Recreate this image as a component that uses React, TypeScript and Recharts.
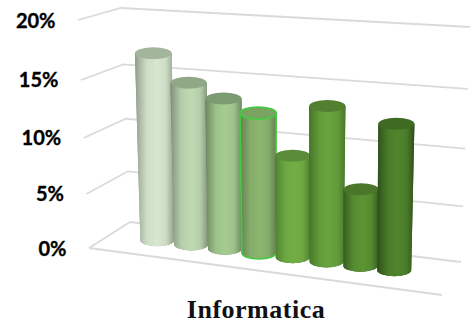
import { BarChart, Bar, XAxis, YAxis, CartesianGrid } from "recharts";

const categories = ["A", "B", "C", "D", "E", "F", "G", "H"];
const shares = [16.9, 14.6, 13.5, 12.5, 9.1, 13.6, 6.8, 12.6];
const yTicks = [0, 5, 10, 15, 20];
const chartTitle = "Informatica";

// body centre, body edge, cap
const bodyColors = ["#d8e8d0", "#bfdab2", "#a6cc91", "#8bb56f", "#72ae45", "#68a33e", "#5c9434", "#4f852c"];
const edgeColors = ["#8f9a89", "#7f8f78", "#6b8560", "#647f50", "#4e7f30", "#457528", "#365c20", "#2d4d1a"];
const capColors = ["#a3b59a", "#91a886", "#7d9b70", "#7aa262", "#5a8c3a", "#527f30", "#4a7629", "#3f6a24"];
const HIGHLIGHT = 3; // this bar has a bright green outline in the source

const data = categories.map((name, i) => ({ name, share: shares[i] }));

const WIDTH = 470;
const HEIGHT = 323;
const MARGIN = { top: 20, right: 18, bottom: 75, left: 110 };
const PLOT_LEFT = 111;
const PLOT_W = WIDTH - PLOT_LEFT - MARGIN.right;
const PLOT_H = HEIGHT - MARGIN.top - MARGIN.bottom;

// corners of the 3D box: floor position and how far it moves at the top of the axis
const FL = { x: 89, y: 248, dx: -11, dy: -228 };
const BL = { x: 130, y: 222, dx: -9, dy: -214 };
const BR = { x: 461, y: 262, dx: 9, dy: -235 };
const FR = { x: 442, y: 295, dx: 8, dy: -250 };
const BAR_DEPTH = 0.53;

const mix = (a: number, b: number, k: number) => a + (b - a) * k;
const warp = (t: number) => 0.93 * t + 0.07 * t * t;

// u: left to right in the plot, d: front (0) to back (1), t: axis height
function project(u: number, d: number, t: number) {
  const w = warp(t);
  const at = (c: typeof FL) => ({ x: c.x + c.dx * w, y: c.y + c.dy * w });
  const fl = at(FL);
  const fr = at(FR);
  const bl = at(BL);
  const br = at(BR);
  return {
    x: mix(mix(fl.x, fr.x, u), mix(bl.x, br.x, u), d),
    y: mix(mix(fl.y, fr.y, u), mix(bl.y, br.y, u), d),
  };
}

const tOf = (y: number) => (MARGIN.top + PLOT_H - y) / PLOT_H;

function WallLine(props: any) {
  const t = tOf(props.y1);
  const a = project(0, 0, t);
  const b = project(0, 1, t);
  const c = project(1, 1, t);
  const front = project(1, 0, 0);
  return (
    <g key={props.key ?? t}>
      <polyline
        points={`${a.x},${a.y} ${b.x},${b.y} ${c.x},${c.y}`}
        fill="none"
        stroke="#dadada"
        strokeWidth={1.8}
      />
      {t < 0.001 && (
        <line x1={a.x} y1={a.y} x2={front.x} y2={front.y} stroke="#dadada" strokeWidth={1.8} />
      )}
    </g>
  );
}

function YTick(props: any) {
  const t = tOf(props.y);
  const p = project(0, 0, t);
  return (
    <text
      x={p.x - 22.5}
      y={p.y + 7.5}
      textAnchor="end"
      fontFamily="Lato, sans-serif"
      fontWeight={700}
      fontSize={20}
      stroke="#000"
      strokeWidth={0.35}
      fill="#000"
    >
      {props.payload.value}%
    </text>
  );
}

function Cylinder(props: any) {
  const { x, y, width, height, index } = props;
  const u = (x + width / 2 - PLOT_LEFT) / PLOT_W;
  const t = height / PLOT_H;
  const base = project(u, BAR_DEPTH, 0);
  const raw = project(u, BAR_DEPTH, t);
  const top = { x: base.x + (raw.x - base.x) * 0.65, y: raw.y };
  const rxBase = width / 2;
  const rxTop = (width / 2) * (1 + 0.1 * warp(t));
  const ry = 6;
  const id = `cyl-${index}`;
  const body = `M${top.x - rxTop},${top.y} L${base.x - rxBase},${base.y} A${rxBase},${ry} 0 0 0 ${base.x + rxBase},${base.y} L${top.x + rxTop},${top.y} Z`;
  const hot = index === HIGHLIGHT;
  return (
    <g>
      <defs>
        <linearGradient id={id} x1="0" x2="1" y1="0" y2="0">
          <stop offset="0" stopColor={edgeColors[index]} />
          <stop offset="0.3" stopColor={bodyColors[index]} stopOpacity={0.85} />
          <stop offset="0.55" stopColor={bodyColors[index]} />
          <stop offset="0.78" stopColor={bodyColors[index]} stopOpacity={0.85} />
          <stop offset="1" stopColor={edgeColors[index]} />
        </linearGradient>
      </defs>
      <path d={body} fill={edgeColors[index]} />
      <path d={body} fill={`url(#${id})`} stroke={hot ? "#45c943" : "none"} strokeWidth={hot ? 1.6 : 0} />
      <ellipse
        cx={top.x}
        cy={top.y}
        rx={rxTop}
        ry={ry}
        fill={capColors[index]}
        stroke={hot ? "#45c943" : "none"}
        strokeWidth={hot ? 1.8 : 0}
      />
    </g>
  );
}

export default function App() {
  return (
    <div style={{ position: "absolute", left: 0, top: 0, width: WIDTH, height: HEIGHT }}>
      <BarChart width={WIDTH} height={HEIGHT} data={data} margin={MARGIN} barCategoryGap={0}>
        <CartesianGrid vertical={false} horizontal={(p: any) => <WallLine {...p} />} />
        <XAxis
          dataKey="name"
          tick={false}
          axisLine={false}
          tickLine={false}
          height={0}
          padding={{ left: 29.6, right: 41 }}
        />
        <YAxis
          type="number"
          domain={[0, 20]}
          ticks={yTicks}
          width={1}
          axisLine={false}
          tickLine={false}
          interval={0}
          tick={(p: any) => <YTick {...p} />}
        />
        <Bar dataKey="share" isAnimationActive={false} shape={(p: any) => <Cylinder {...p} />} />
        <text
          x={256}
          y={318}
          textAnchor="middle"
          fontFamily="'Liberation Serif', serif"
          fontWeight={700}
          fontSize={26}
          letterSpacing={0.5}
          fill="#111"
        >
          {chartTitle}
        </text>
      </BarChart>
    </div>
  );
}
